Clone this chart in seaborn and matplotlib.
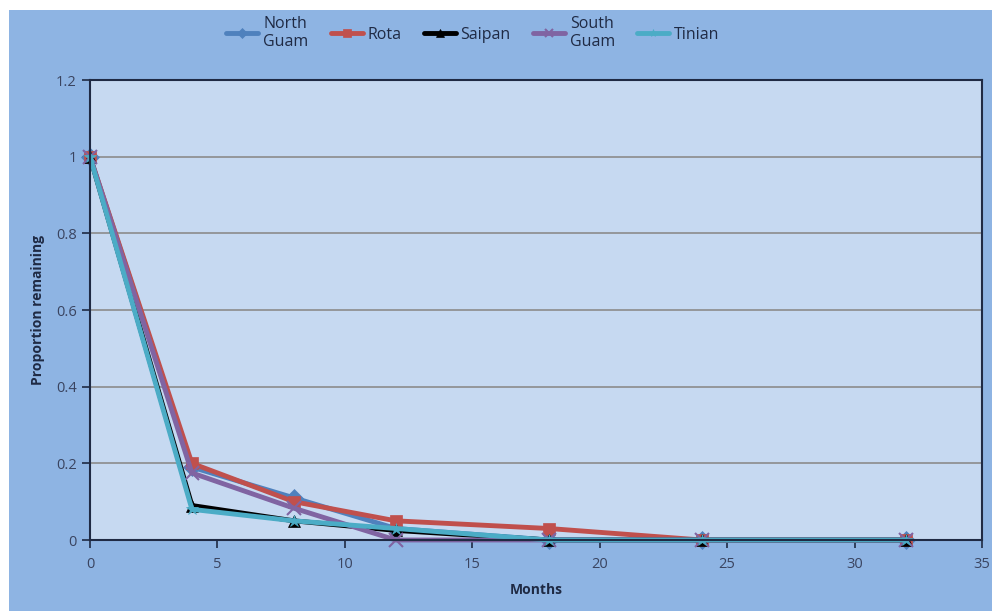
import matplotlib
matplotlib.use("Agg")
import matplotlib.pyplot as plt
import seaborn as sns
import pandas as pd
from matplotlib.patches import Rectangle

months = [0, 4, 8, 12, 18, 24, 32]
north_guam = [1.0, 0.19, 0.11, 0.03, 0.0, 0.0, 0.0]
rota = [1.0, 0.20, 0.10, 0.05, 0.03, 0.0, 0.0]
saipan = [1.0, 0.09, 0.05, 0.025, 0.0, 0.0, 0.0]
south_guam = [1.0, 0.175, 0.083, 0.0, 0.0, 0.0, 0.0]
tinian = [1.0, 0.08, 0.05, 0.03, 0.0, 0.0, 0.0]

series_names = ["North\nGuam", "Rota", "Saipan", "South\nGuam", "Tinian"]
series_values = [north_guam, rota, saipan, south_guam, tinian]
colors = ["#4F81BD", "#C0504D", "#000000", "#8064A2", "#4BACC6"]
markers = ["D", "s", "^", "x", "*"]

rows = []
for name, vals in zip(series_names, series_values):
    for m, v in zip(months, vals):
        rows.append({"Months": m, "Proportion remaining": v, "Site": name})
df = pd.DataFrame(rows)

sns.set_theme(style="white")
plt.rcParams["font.family"] = ["Open Sans", "DejaVu Sans"]

fig = plt.figure(figsize=(9.92, 6.11), dpi=100, facecolor="white")
fig.patches.append(Rectangle((9/992, 0), 1 - 9/992, (611 - 10)/611,
                             transform=fig.transFigure, facecolor="#8EB4E3",
                             edgecolor="none", zorder=-10))
ax = fig.add_axes([90/992, (611-540)/611, (982-90)/992, (540-80)/611])
ax.set_facecolor("#C6D9F1")

for name, c, mk in zip(series_names, colors, markers):
    sub = df[df["Site"] == name]
    sns.lineplot(data=sub, x="Months", y="Proportion remaining", ax=ax,
                 color=c, marker=mk, markersize=9 if mk != "x" else 10,
                 markeredgewidth=1.5 if mk == "x" else 0.5,
                 markeredgecolor=c, linewidth=3.5, label=name,
                 clip_on=False)

ax.set_xlim(0, 35)
ax.set_ylim(0, 1.2)
ax.set_xticks([0, 5, 10, 15, 20, 25, 30, 35])
ax.set_yticks([0, 0.2, 0.4, 0.6, 0.8, 1.0, 1.2])
ax.set_yticklabels(["0", "0.2", "0.4", "0.6", "0.8", "1", "1.2"])
ax.yaxis.grid(True, color="#8C8C8C", linewidth=1.2)
ax.set_axisbelow(True)
for s in ax.spines.values():
    s.set_color("#1F2A44")
    s.set_linewidth(1.5)
ax.tick_params(axis="both", which="major", direction="out", length=6,
               width=1.2, color="#1F2A44", labelsize=10.5, labelcolor="#3A4460",
               bottom=True, left=True)
ax.tick_params(axis="x", pad=6)
ax.set_xlabel("Months", fontsize=10, fontweight="bold", color="#1F2A44", labelpad=8)
ax.set_ylabel("Proportion remaining", fontsize=10, fontweight="bold", color="#1F2A44", labelpad=8)

ax.legend(loc="center", bbox_to_anchor=(473/992, (611-33)/611), bbox_transform=fig.transFigure,
          ncol=5, frameon=False, fontsize=11.5, handlelength=2.0, columnspacing=1.4,
          handletextpad=0.3, labelcolor="#1F2A44", markerscale=0.6)

fig.savefig("out.png", dpi=100, facecolor="white")
